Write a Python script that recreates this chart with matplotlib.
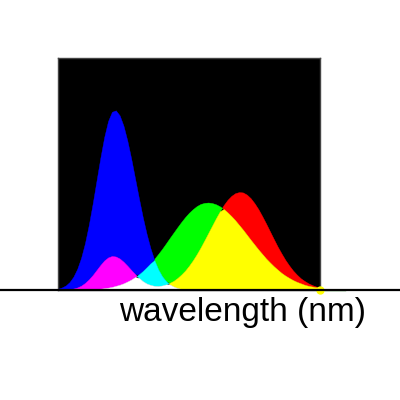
import itertools
import numpy as np
import matplotlib
matplotlib.use("Agg")
import matplotlib.pyplot as plt
from matplotlib.lines import Line2D

# wavelength samples (nm)
wavelength = list(range(380, 721, 5))

# relative spectral intensities
blue = [0.007, 0.014, 0.025, 0.044, 0.074, 0.118, 0.179, 0.260, 0.362, 0.480,
        0.608, 0.735, 0.850, 0.939, 0.990, 0.998, 0.970, 0.912, 0.829, 0.729,
        0.619, 0.509, 0.404, 0.311, 0.231, 0.166, 0.115, 0.077, 0.050, 0.031,
        0.019, 0.011, 0.006, 0.003, 0.002, 0.001, 0.000, 0.000, 0.000, 0.000,
        0.000, 0.000, 0.000, 0.000, 0.000, 0.000, 0.000, 0.000, 0.000, 0.000,
        0.000, 0.000, 0.000, 0.000, 0.000, 0.000, 0.000, 0.000, 0.000, 0.000,
        0.000, 0.000, 0.000, 0.000, 0.000, 0.000, 0.000, 0.000, 0.000]
red = [0.000, 0.001, 0.002, 0.004, 0.008, 0.014, 0.024, 0.039, 0.059, 0.083,
       0.111, 0.139, 0.164, 0.181, 0.189, 0.186, 0.175, 0.157, 0.135, 0.111,
       0.088, 0.067, 0.049, 0.036, 0.028, 0.023, 0.022, 0.025, 0.031, 0.040,
       0.051, 0.067, 0.086, 0.108, 0.135, 0.165, 0.199, 0.236, 0.276, 0.317,
       0.358, 0.399, 0.437, 0.472, 0.501, 0.523, 0.538, 0.544, 0.542, 0.530,
       0.510, 0.482, 0.449, 0.410, 0.369, 0.326, 0.283, 0.241, 0.203, 0.167,
       0.136, 0.108, 0.085, 0.065, 0.050, 0.037, 0.027, 0.019, 0.014]
green = [0.000, 0.000, 0.000, 0.000, 0.001, 0.001, 0.001, 0.002, 0.003, 0.004,
         0.005, 0.007, 0.010, 0.013, 0.017, 0.023, 0.029, 0.037, 0.047, 0.058,
         0.072, 0.087, 0.105, 0.126, 0.148, 0.173, 0.200, 0.228, 0.258, 0.289,
         0.319, 0.349, 0.378, 0.405, 0.429, 0.449, 0.466, 0.478, 0.484, 0.486,
         0.483, 0.476, 0.465, 0.450, 0.431, 0.410, 0.387, 0.361, 0.335, 0.307,
         0.279, 0.252, 0.225, 0.200, 0.175, 0.153, 0.132, 0.113, 0.095, 0.080,
         0.067, 0.055, 0.045, 0.037, 0.029, 0.023, 0.019, 0.015, 0.011]

xlabel = "wavelength (nm)"

plt.rcParams['font.family'] = ['Liberation Sans', 'DejaVu Sans']

fig = plt.figure(figsize=(4, 4), dpi=100)
fig.patch.set_facecolor('white')
ax = fig.add_axes([0.145, 0.275, 0.655, 0.58])
ax.set_facecolor('black')
for s in ax.spines.values():
    s.set_color('#444444')
    s.set_linewidth(1.0)
ax.set_xticks([])
ax.set_yticks([])
ax.set_xlim(380, 720)
ax.set_ylim(0, 1.289)

x = np.asarray(wavelength, dtype=float)
curves = {0: np.asarray(red), 1: np.asarray(green), 2: np.asarray(blue)}

# additive colour mixing: each region gets the colour of the channels above it
for k in (1, 2, 3):
    for subset in itertools.combinations((0, 1, 2), k):
        hi = np.min([curves[i] for i in subset], axis=0)
        others = [curves[i] for i in (0, 1, 2) if i not in subset]
        lo = np.max(others, axis=0) if others else np.zeros_like(x)
        col = tuple(1.0 if i in subset else 0.0 for i in (0, 1, 2))
        ax.fill_between(x, lo, hi, where=hi > lo, interpolate=True,
                        facecolor=col, edgecolor=col, linewidth=0.3, zorder=2)

# small marker at the end of the axis
ax.plot([x[-1]], [0], marker='o', color='#ffff00', markersize=5,
        clip_on=False, zorder=6)
ax.plot([x[-1] + 6, x[-1] + 32], [0, 0], color='#0a6a0a', lw=1,
        clip_on=False, zorder=6)

# long baseline across the whole figure
fig.add_artist(Line2D([0, 1], [0.275, 0.275], transform=fig.transFigure,
                      color='black', lw=1.6, zorder=5))

fig.text(0.298, 0.1975, xlabel, fontsize=24, ha='left', va='baseline',
         color='black')

fig.savefig('out.png', dpi=100, facecolor='white')
